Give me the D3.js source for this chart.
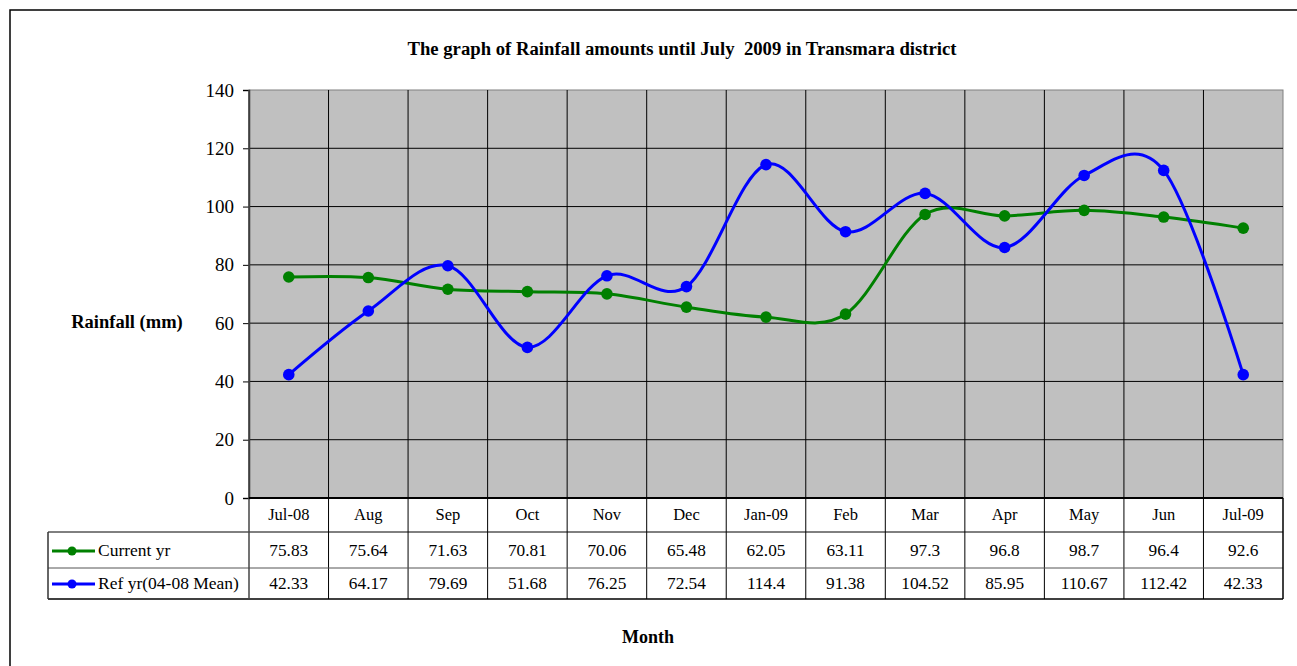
<!DOCTYPE html>
<html>
<head>
<meta charset="utf-8">
<script src="https://cdn.jsdelivr.net/npm/d3@7"></script>
<style>
  body { margin: 0; background: #fff; }
  text { font-family: "Liberation Serif", "Times New Roman", serif; fill: #000; }
</style>
</head>
<body>
<svg id="chart" width="1297" height="666"></svg>
<script>
// datos del grafico
var months = ["Jul-08", "Aug", "Sep", "Oct", "Nov", "Dec", "Jan-09", "Feb", "Mar", "Apr", "May", "Jun", "Jul-09"];
var currentYr = [75.83, 75.64, 71.63, 70.81, 70.06, 65.48, 62.05, 63.11, 97.3, 96.8, 98.7, 96.4, 92.6];
var refYr = [42.33, 64.17, 79.69, 51.68, 76.25, 72.54, 114.4, 91.38, 104.52, 85.95, 110.67, 112.42, 42.33];
var yTicks = [0, 20, 40, 60, 80, 100, 120, 140];

var series = [
    { name: "Current yr", values: currentYr, color: "#008000" },
    { name: "Ref yr(04-08 Mean)", values: refYr, color: "#0000ff" }
];

var svg = d3.select("#chart");

var plotLeft = 249, plotRight = 1283, plotTop = 90, plotBottom = 498;
var rowH = [34, 36, 31];
var legendLeft = 48;

var xScale = d3.scaleBand().domain(months).range([plotLeft, plotRight]);
var yScale = d3.scaleLinear().domain([0, 140]).range([plotBottom, plotTop]);
var cx = function(i) { return xScale(months[i]) + xScale.bandwidth() / 2; };

// marco exterior
svg.append("rect")
    .attr("x", 10).attr("y", 10)
    .attr("width", 1300).attr("height", 700)
    .attr("fill", "none").attr("stroke", "#000").attr("stroke-width", 1.5);

// titulo
svg.append("text")
    .attr("x", 682).attr("y", 55)
    .attr("text-anchor", "middle")
    .attr("font-size", 18.7).attr("font-weight", "bold")
    .style("white-space", "pre")
    .text("The graph of Rainfall amounts until July  2009 in Transmara district");

// fondo del area de trazado
svg.append("rect")
    .attr("x", plotLeft).attr("y", plotTop)
    .attr("width", plotRight - plotLeft).attr("height", plotBottom - plotTop)
    .attr("fill", "#c0c0c0")
    .attr("stroke", "#808080").attr("stroke-width", 1);

var g = svg.append("g");

// lineas horizontales
g.selectAll(".hgrid")
    .data(yTicks.filter(function(d) { return d > 0 && d < 140; }))
    .enter().append("line")
    .attr("x1", plotLeft).attr("x2", plotRight)
    .attr("y1", function(d) { return yScale(d); })
    .attr("y2", function(d) { return yScale(d); })
    .attr("stroke", "#000").attr("stroke-width", 1);

var tableBottom = plotBottom + rowH[0] + rowH[1] + rowH[2];
var row1 = plotBottom + rowH[0], row2 = row1 + rowH[1];

// lineas verticales (atraviesan tambien la tabla)
g.selectAll(".vgrid")
    .data(months.slice(1))
    .enter().append("line")
    .attr("x1", function(d) { return xScale(d); })
    .attr("x2", function(d) { return xScale(d); })
    .attr("y1", plotTop).attr("y2", tableBottom)
    .attr("stroke", "#000").attr("stroke-width", 1);

// eje y
var yAxis = svg.append("g")
    .attr("transform", "translate(" + plotLeft + ",0)")
    .call(d3.axisLeft(yScale).tickValues(yTicks).tickSize(6).tickPadding(9));
yAxis.select(".domain").attr("stroke", "#333").attr("stroke-width", 1.5);
yAxis.selectAll(".tick line").attr("stroke", "#000");
yAxis.selectAll(".tick text")
    .attr("font-family", "Liberation Serif, serif")
    .attr("font-size", 19).attr("fill", "#000");

svg.append("text")
    .attr("x", 127).attr("y", 328)
    .attr("text-anchor", "middle")
    .attr("font-size", 18.5).attr("font-weight", "bold")
    .text("Rainfall (mm)");

// tabla de datos
svg.append("line")
    .attr("x1", legendLeft).attr("x2", plotRight).attr("y1", tableBottom).attr("y2", tableBottom)
    .attr("stroke", "#000").attr("stroke-width", 1.5);
svg.append("line")
    .attr("x1", legendLeft).attr("x2", plotRight).attr("y1", row1).attr("y2", row1)
    .attr("stroke", "#000").attr("stroke-width", 1);
svg.append("line")
    .attr("x1", legendLeft).attr("x2", plotRight).attr("y1", row2).attr("y2", row2)
    .attr("stroke", "#555").attr("stroke-width", 1);
svg.append("line")
    .attr("x1", legendLeft).attr("x2", legendLeft).attr("y1", row1).attr("y2", tableBottom)
    .attr("stroke", "#333").attr("stroke-width", 1.5);
svg.append("line")
    .attr("x1", plotLeft).attr("x2", plotLeft).attr("y1", plotTop).attr("y2", tableBottom)
    .attr("stroke", "#444").attr("stroke-width", 1.5);
svg.append("line")
    .attr("x1", plotRight).attr("x2", plotRight).attr("y1", plotBottom).attr("y2", tableBottom)
    .attr("stroke", "#000").attr("stroke-width", 1.5);
svg.append("line")
    .attr("x1", plotLeft).attr("x2", plotRight).attr("y1", plotBottom).attr("y2", plotBottom)
    .attr("stroke", "#000").attr("stroke-width", 2);

// cabecera con meses
svg.selectAll(".mlabel")
    .data(months)
    .enter().append("text")
    .attr("x", function(d, i) { return cx(i); })
    .attr("y", plotBottom + 22)
    .attr("text-anchor", "middle")
    .attr("font-size", 16.5)
    .text(function(d) { return d; });

var rowY = [row1 + 24, row2 + 21];

series.forEach(function(s, si) {
    svg.selectAll(".val" + si)
        .data(s.values)
        .enter().append("text")
        .attr("x", function(d, i) { return cx(i); })
        .attr("y", rowY[si])
        .attr("text-anchor", "middle")
        .attr("font-size", 17.3)
        .text(function(d) { return d; });

    // leyenda
    var ly = rowY[si] - 5;
    svg.append("line")
        .attr("x1", 52).attr("x2", 95).attr("y1", ly).attr("y2", ly)
        .attr("stroke", s.color).attr("stroke-width", 3);
    svg.append("circle")
        .attr("cx", 72).attr("cy", ly).attr("r", 4.5)
        .attr("fill", s.color);
    svg.append("text")
        .attr("x", 98).attr("y", rowY[si])
        .attr("font-size", 17.5)
        .text(s.name);
});

// series suavizadas
var line = d3.line()
    .x(function(d, i) { return cx(i); })
    .y(function(d) { return yScale(d); })
    .curve(d3.curveCardinal.tension(0));

series.forEach(function(s, si) {
    g.append("path")
        .datum(s.values)
        .attr("d", line)
        .attr("fill", "none")
        .attr("stroke", s.color)
        .attr("stroke-width", 3);

    g.selectAll(".dot" + si)
        .data(s.values)
        .enter().append("circle")
        .attr("cx", function(d, i) { return cx(i); })
        .attr("cy", function(d) { return yScale(d); })
        .attr("r", 5.8)
        .attr("fill", s.color);
});

svg.append("text")
    .attr("x", 648).attr("y", 643)
    .attr("text-anchor", "middle")
    .attr("font-size", 18).attr("font-weight", "bold")
    .text("Month");
</script>
</body>
</html>
